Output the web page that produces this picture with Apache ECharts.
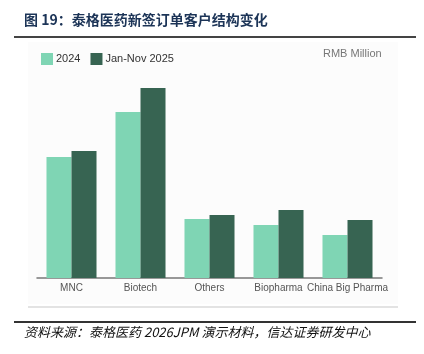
<!DOCTYPE html>
<html>
<head>
<meta charset="utf-8">
<script src="https://cdn.jsdelivr.net/npm/echarts@6/dist/echarts.min.js"></script>
<style>
  html, body { margin: 0; padding: 0; background: #fff; }
  #chart { width: 424px; height: 354px; }
</style>
</head>
<body>
<div id="chart"></div>
<script>
  // 客户类别
  var categories = ['MNC', 'Biotech', 'Others', 'Biopharma', 'China Big Pharma'];
  // 新签订单 (RMB Million, 估读)
  var orders2024 = [1210, 1660, 590, 530, 430];
  var orders2025 = [1270, 1900, 630, 680, 580];
  var seriesNames = ['2024', 'Jan-Nov 2025'];

  var myChart = echarts.init(document.getElementById('chart'));
  var option = {
    animation: false,
    backgroundColor: '#ffffff',
    color: ['#7fd5b4', '#376452'],
    graphic: [
      { type: 'rect', shape: { x: 28, y: 42, width: 370, height: 262 }, style: { fill: '#fcfcfc' }, z: -10 },
      { type: 'text', left: 24, top: 13,
        style: { text: '图 19：泰格医药新签订单客户结构变化', fill: '#1c3457',
          font: 'bold 14px "Noto Sans CJK SC"', letterSpacing: 1 } },
      { type: 'rect', shape: { x: 14, y: 36, width: 402, height: 2 }, style: { fill: '#444' } },
      { type: 'text', left: 323, top: 48,
        style: { text: 'RMB Million', fill: '#777', font: '11px "Liberation Sans"' } },
      { type: 'rect', shape: { x: 28, y: 306.5, width: 370, height: 1 }, style: { fill: '#c8c8c8' } },
      { type: 'rect', shape: { x: 14, y: 321, width: 402, height: 2 }, style: { fill: '#333' } },
      { type: 'text', left: 24, top: 326,
        style: { text: '资料来源：泰格医药 2026JPM 演示材料，信达证券研发中心', fill: '#111',
          font: 'italic 13px "Noto Sans CJK SC"' } }
    ],
    legend: {
      data: seriesNames,
      left: 36,
      top: 48,
      itemWidth: 12,
      itemHeight: 12,
      itemGap: 10,
      icon: 'rect',
      textStyle: { color: '#333', fontSize: 11, fontFamily: 'Liberation Sans', padding: [0, 0, 0, -2] }
    },
    grid: { left: 37, right: 42, top: 78, bottom: 76, containLabel: false },
    xAxis: {
      type: 'category',
      data: categories,
      axisLine: { lineStyle: { color: '#777', width: 1.5 } },
      axisTick: { show: false },
      axisLabel: { interval: 0, color: '#555', fontSize: 10, fontFamily: 'Liberation Sans', margin: 5 }
    },
    yAxis: {
      type: 'value',
      min: 0,
      max: 2000,
      show: false
    },
    series: [
      { name: seriesNames[0], type: 'bar', data: orders2024, barGap: '0%', barCategoryGap: '27.5%' },
      { name: seriesNames[1], type: 'bar', data: orders2025, barGap: '0%', barCategoryGap: '27.5%' }
    ]
  };
  myChart.setOption(option);
</script>
</body>
</html>
